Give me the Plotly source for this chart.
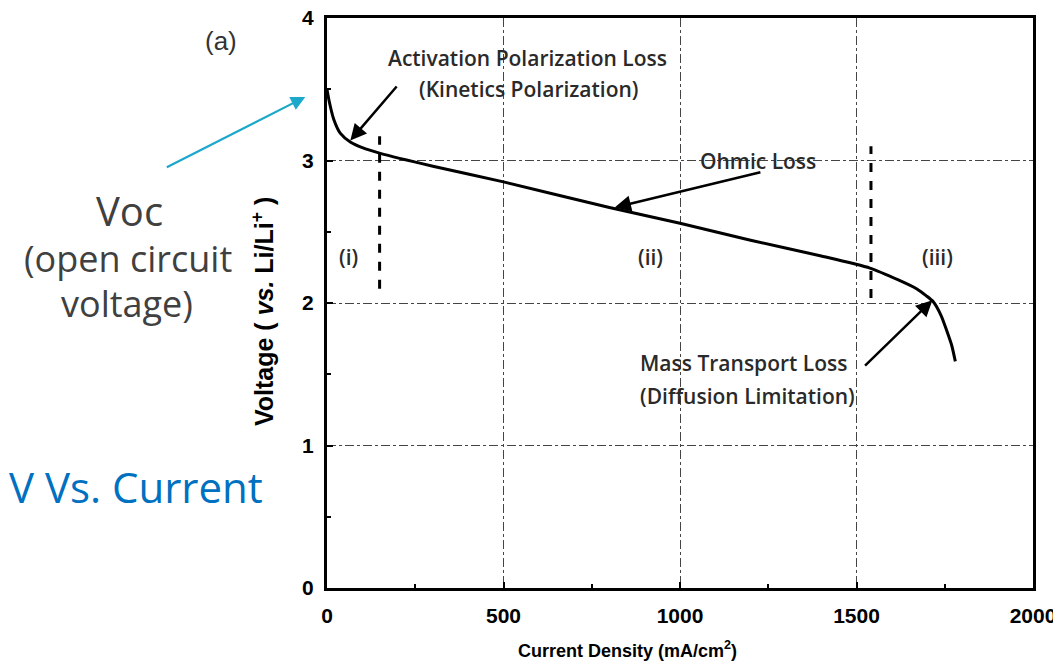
import plotly.graph_objects as go

# ---- data ----
current = [0, 5, 19, 38, 66, 100, 151, 300, 500, 800, 1000, 1200, 1400, 1538,
           1620, 1670, 1698, 1717, 1740, 1755, 1770, 1780]
voltage = [3.50, 3.43, 3.29, 3.19, 3.13, 3.09, 3.05, 2.96, 2.85, 2.67, 2.56, 2.44,
           2.33, 2.245, 2.16, 2.10, 2.05, 2.01, 1.91, 1.81, 1.70, 1.59]

region_bounds = [149, 1541]          # dashed region separators (mA/cm2)
region_top = [3.17, 3.10]
region_bottom = [2.10, 2.035]
region_labels = ["(i)", "(ii)", "(iii)"]
region_label_x = [60, 915, 1730]

x_ticks = [0, 500, 1000, 1500, 2000]
y_ticks = [0, 1, 2, 3, 4]

fig = go.Figure()

fig.add_trace(go.Scatter(x=current, y=voltage, mode="lines",
                         line=dict(color="black", width=3, shape="spline", smoothing=0.6),
                         showlegend=False, hoverinfo="skip"))

for xb, yt, yb in zip(region_bounds, region_top, region_bottom):
    fig.add_trace(go.Scatter(x=[xb, xb], y=[yb, yt], mode="lines",
                             line=dict(color="black", width=3, dash="dash"),
                             showlegend=False, hoverinfo="skip"))

ann_font = dict(family="Open Sans", size=21, color="#2a2a2a", weight=600)

annotations = []
for lab, lx in zip(region_labels, region_label_x):
    annotations.append(dict(x=lx, y=2.325, xref="x", yref="y", text=lab, showarrow=False,
                            xanchor="center", yanchor="middle", font=ann_font))

annotations += [
    dict(x=568, y=3.72, xref="x", yref="y", text="Activation Polarization Loss",
         showarrow=False, xanchor="center", yanchor="middle", font=ann_font),
    dict(x=572, y=3.50, xref="x", yref="y", text="(Kinetics Polarization)",
         showarrow=False, xanchor="center", yanchor="middle", font=ann_font),
    dict(x=1221, y=3.00, xref="x", yref="y", text="Ohmic Loss",
         showarrow=False, xanchor="center", yanchor="middle", font=ann_font),
    dict(x=1182, y=1.58, xref="x", yref="y", text="Mass Transport Loss",
         showarrow=False, xanchor="center", yanchor="middle", font=ann_font),
    dict(x=1190, y=1.35, xref="x", yref="y", text="(Diffusion Limitation)",
         showarrow=False, xanchor="center", yanchor="middle", font=ann_font),
]

arrow_defs = [
    ((66, 3.14), (201, 3.53)),
    ((815, 2.67), (1232, 2.92)),
    ((1715, 2.02), (1520, 1.55)),
]
for (tx, ty), (sx, sy) in arrow_defs:
    annotations.append(dict(x=tx, y=ty, ax=sx, ay=sy, xref="x", yref="y",
                            axref="x", ayref="y", text="", showarrow=True,
                            arrowhead=2, arrowsize=1.3, arrowwidth=2.5,
                            arrowcolor="black"))


# positions of outside items, given in window pixels, converted to paper coords
def px(xp):
    return (xp - 326.7) / 706.0


def py(yp):
    return (588.5 - yp) / 570.5


# Voc arrow (teal)
annotations.append(dict(x=px(305), y=py(97), ax=-140, ay=71, xref="paper", yref="paper",
                        axref="pixel", ayref="pixel", text="", showarrow=True,
                        arrowhead=2, arrowsize=1.3, arrowwidth=2.2,
                        arrowcolor="#1BA8CB"))


def outside(xp, yp, text, font, **kw):
    return dict(x=px(xp), y=py(yp), xref="paper", yref="paper", text=text,
                showarrow=False, xanchor="center", yanchor="middle", font=font, **kw)


annotations += [
    outside(221, 41, "(a)", dict(family="Liberation Sans", size=26, color="#333333")),
    outside(129, 211, "Voc", dict(family="Open Sans", size=40, color="#404040")),
    outside(128, 259, "(open circuit", dict(family="Open Sans", size=36, color="#404040")),
    outside(127, 304, "voltage)", dict(family="Open Sans", size=36, color="#404040")),
    outside(136, 487, "V Vs. Current", dict(family="Open Sans", size=42, color="#0070C0")),
    outside(262, 312, "<b>Voltage ( <i>vs.</i> Li/Li<sup>+</sup> )</b>",
            dict(family="Liberation Sans", size=25, color="black"), textangle=-90),
    outside(627, 650, "<b>Current Density (mA/cm<sup>2</sup>)</b>",
            dict(family="Liberation Sans", size=18, color="black")),
]

axis_common = dict(showline=True, linecolor="black", linewidth=3, mirror=True,
                   ticks="inside", ticklen=6, tickwidth=2, tickcolor="black",
                   showgrid=True, gridcolor="#444444", gridwidth=1, griddash="dashdot",
                   zeroline=False, automargin=False, ticklabeloverflow="allow",
                   tickfont=dict(family="Liberation Sans", size=21, color="black",
                                 weight="bold"),
                   minor=dict(ticks="inside", ticklen=4, tickwidth=2, tickcolor="black",
                              showgrid=False))

fig.update_layout(
    width=1053, height=658,
    margin=dict(l=319, r=28, t=10, b=78),
    paper_bgcolor="white", plot_bgcolor="white",
    xaxis=dict(range=[0, 2000], tickvals=x_ticks, ticklabelstandoff=7, **axis_common),
    yaxis=dict(range=[0, 4], tickvals=y_ticks, ticklabelstandoff=6, **axis_common),
    annotations=annotations,
    showlegend=False,
)
fig.update_xaxes(minor_dtick=250)
fig.update_yaxes(minor_dtick=0.5)

fig.write_html("out.html")
